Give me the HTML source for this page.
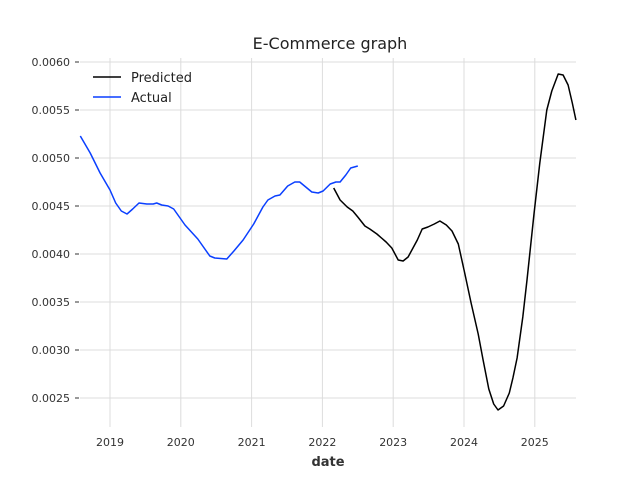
<!DOCTYPE html>
<html><head><meta charset="utf-8"><style>
body{margin:0;background:#fff;}
svg{display:block;font-family:"DejaVu Sans","Liberation Sans",sans-serif;}
</style></head><body>
<svg id="chart" width="640" height="480">
<rect width="640" height="480" fill="#fff"/>
<g id="grid"></g><g id="ticks"></g><g id="series"></g>
<text x="330" y="49" text-anchor="middle" font-size="16" fill="#222">E-Commerce graph</text>
<text x="328" y="466" text-anchor="middle" font-size="13" font-weight="bold" fill="#333">date</text>
<g>
<g><line x1="93" y1="77" x2="121" y2="77" stroke="#000" stroke-width="1.5"/><text x="131" y="82" font-size="13" fill="#222">Predicted</text></g>
<g><line x1="93" y1="97" x2="121" y2="97" stroke="#0a3fff" stroke-width="1.5"/><text x="131" y="102" font-size="13" fill="#222">Actual</text></g>
</g>
</svg>
<script>
const yTicks=[0.0025,0.0030,0.0035,0.0040,0.0045,0.0050,0.0055,0.0060];
const xTicks=[2019,2020,2021,2022,2023,2024,2025];
const actualDates=[2018.58,2018.72,2018.86,2019.00,2019.08,2019.16,2019.24,2019.32,2019.41,2019.52,2019.61,2019.66,2019.73,2019.82,2019.90,2020.06,2020.24,2020.41,2020.48,2020.65,2020.75,2020.88,2021.03,2021.16,2021.23,2021.33,2021.40,2021.51,2021.61,2021.68,2021.85,2021.94,2022.01,2022.11,2022.19,2022.25,2022.33,2022.40,2022.50];
const actualValues=[0.005229,0.005052,0.004844,0.004667,0.004531,0.004448,0.004417,0.004469,0.004531,0.004521,0.004521,0.004531,0.004510,0.004500,0.004469,0.004302,0.004156,0.003979,0.003958,0.003948,0.004031,0.004146,0.004313,0.004490,0.004563,0.004604,0.004615,0.004708,0.00475,0.00475,0.004646,0.004635,0.004656,0.004729,0.00475,0.00475,0.004823,0.004896,0.004917];
const predDates=[2022.16,2022.25,2022.35,2022.43,2022.50,2022.60,2022.67,2022.77,2022.90,2022.98,2023.07,2023.14,2023.21,2023.34,2023.41,2023.49,2023.58,2023.66,2023.75,2023.83,2023.92,2024.01,2024.10,2024.20,2024.27,2024.35,2024.42,2024.48,2024.56,2024.64,2024.69,2024.75,2024.83,2024.89,2024.99,2025.07,2025.17,2025.24,2025.33,2025.40,2025.47,2025.53,2025.58];
const predValues=[0.004688,0.004563,0.00449,0.004448,0.004385,0.004292,0.00426,0.004208,0.004125,0.004063,0.003938,0.003927,0.003969,0.004146,0.00426,0.004281,0.004313,0.004344,0.004302,0.00424,0.004104,0.003802,0.00349,0.003167,0.002896,0.002594,0.002438,0.002375,0.002417,0.002552,0.002708,0.002917,0.003344,0.003729,0.004427,0.004948,0.0055,0.005698,0.005875,0.005865,0.00576,0.005573,0.005396];
const L=80,R=576,T=58,B=427;
const xs=t=>110+(t-2019)*70.8;
const ys=v=>62+(0.006-v)*96000;
const NS='http://www.w3.org/2000/svg';
const grid=document.getElementById('grid'),ticks=document.getElementById('ticks'),series=document.getElementById('series');
function mk(tag,attrs,parent){const e=document.createElementNS(NS,tag);for(const k in attrs)e.setAttribute(k,attrs[k]);parent.appendChild(e);return e;}
yTicks.forEach(v=>{const y=ys(v);
 const g=mk('line',{x1:L,x2:R,y1:y,y2:y,stroke:'#dcdcdc','stroke-width':1},grid);
 
 
 const tk=mk('line',{x1:L-5,x2:L-1,y1:y,y2:y,stroke:'#333','stroke-width':1},ticks);
 
 
 const t=mk('text',{x:L-10,y:y+4,'text-anchor':'end','font-size':11,fill:'#333'},ticks);
 t.textContent=v.toFixed(4);
 
 
});
xTicks.forEach(v=>{const x=xs(v);
 const g=mk('line',{x1:x,x2:x,y1:T,y2:B,stroke:'#dcdcdc','stroke-width':1},grid);
 
 
 const t=mk('text',{x:x,y:446,'text-anchor':'middle','font-size':11,fill:'#333'},ticks);
 t.textContent=v;
 
 
});
function line(d,v,color,name){
 const pts=d.map((t,i)=>xs(t).toFixed(1)+','+ys(v[i]).toFixed(1)).join(' ');
 const p=mk('polyline',{points:pts,fill:'none',stroke:color,'stroke-width':1.5,'stroke-linejoin':'round'},series);
 
 
}
line(actualDates,actualValues,'#0a3fff','actual-line');
line(predDates,predValues,'#000','predicted-line');
</script>
</body></html>
